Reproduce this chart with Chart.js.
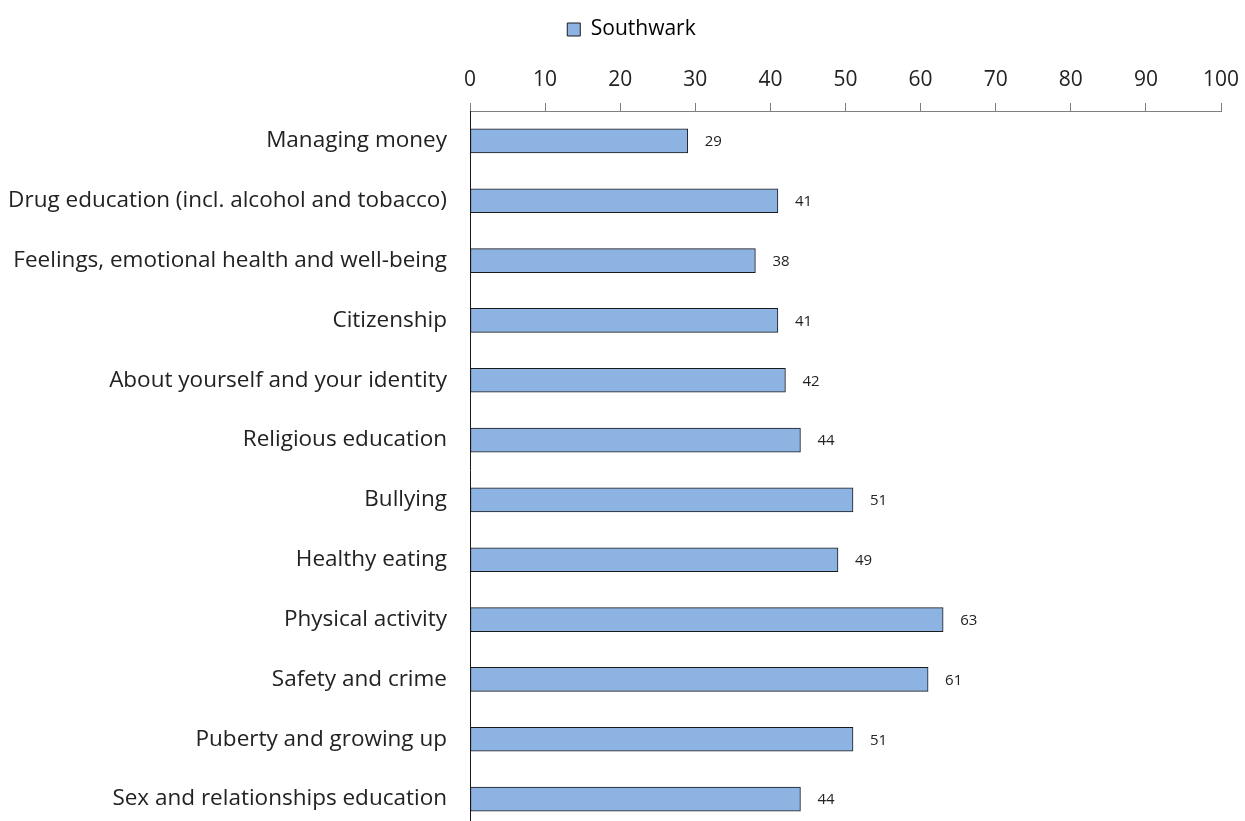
<!DOCTYPE html>
<html>
<head>
<meta charset="utf-8">
<script src="https://cdn.jsdelivr.net/npm/chart.js@4.4.1/dist/chart.umd.min.js"></script>
<style>
  html, body { margin: 0; padding: 0; background: #fff; overflow: hidden; }
  canvas { display: block; }
</style>
</head>
<body>
<canvas id="pshe" width="1245" height="830"></canvas>
<script>
// Topics, top to bottom
var topics = [
  'Managing money',
  'Drug education (incl. alcohol and tobacco)',
  'Feelings, emotional health and well-being',
  'Citizenship',
  'About yourself and your identity',
  'Religious education',
  'Bullying',
  'Healthy eating',
  'Physical activity',
  'Safety and crime',
  'Puberty and growing up',
  'Sex and relationships education'
];
var southwark = [29, 41, 38, 41, 42, 44, 51, 49, 63, 61, 51, 44];
var seriesName = 'Southwark';

var FONT = '"Open Sans", Lato, sans-serif';
var BAR_FILL = '#8db3e2';
var BAR_EDGE = '#1a1a1a';

// value labels just past the end of each bar
var barValues = {
  id: 'barValues',
  afterDatasetsDraw: function(chart) {
    var ctx = chart.ctx;
    var meta = chart.getDatasetMeta(0);
    ctx.save();
    ctx.font = '15px ' + FONT;
    ctx.fillStyle = '#222';
    ctx.textAlign = 'left';
    ctx.textBaseline = 'middle';
    meta.data.forEach(function(bar, i) {
      ctx.fillText(String(southwark[i]), bar.x + 17, bar.y + 1);
    });
    ctx.restore();
  }
};

// nudge the legend a little right of the canvas centre
var legendShift = {
  id: 'legendShift',
  afterLayout: function(chart) {
    if (!chart.legend) return;
    chart.legend.left += 21;
    chart.legend.right += 21;
  }
};

new Chart(document.getElementById('pshe'), {
  type: 'bar',
  data: {
    labels: topics,
    datasets: [{
      label: seriesName,
      data: southwark,
      backgroundColor: BAR_FILL,
      borderColor: BAR_EDGE,
      borderWidth: 1,
      borderSkipped: false,
      barThickness: 24
    }]
  },
  options: {
    indexAxis: 'y',
    responsive: false,
    animation: false,
    layout: { padding: { top: 13, right: 24, left: 0, bottom: 1 } },
    plugins: {
      legend: {
        position: 'top',
        labels: {
          font: { family: FONT, size: 21 },
          color: '#222',
          boxWidth: 13,
          boxHeight: 13,
          padding: 6,
          generateLabels: function() {
            return [{
              text: seriesName,
              fillStyle: BAR_FILL,
              strokeStyle: BAR_EDGE,
              lineWidth: 1,
              datasetIndex: 0
            }];
          }
        }
      },
      tooltip: { enabled: false }
    },
    scales: {
      x: {
        position: 'top',
        min: 0,
        max: 100,
        ticks: {
          stepSize: 10,
          padding: 10,
          color: '#222',
          font: { family: FONT, size: 21 }
        },
        grid: {
          display: true,
          drawOnChartArea: false,
          drawTicks: true,
          tickLength: 8,
          color: '#808080'
        },
        border: { display: true, color: '#808080', width: 1 },
        afterFit: function(scale) {
          scale.height = 61;
          scale.paddingLeft = 0;
          scale.paddingRight = 0;
        }
      },
      y: {
        ticks: {
          color: '#222',
          padding: 23,
          font: { family: FONT, size: 22.5 }
        },
        grid: { display: false, drawTicks: false },
        border: { display: true, color: '#1a1a1a', width: 1 },
        afterFit: function(scale) {
          scale.width = 470;
          scale.paddingTop = 0;
          scale.paddingBottom = 0;
        }
      }
    }
  },
  plugins: [barValues, legendShift]
});
</script>
</body>
</html>
